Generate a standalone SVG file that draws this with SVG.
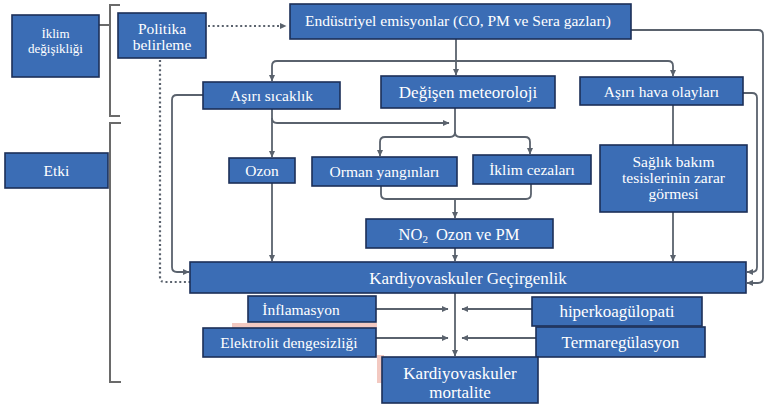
<svg xmlns="http://www.w3.org/2000/svg" width="764" height="407" viewBox="0 0 764 407">
<style>
.box{fill:#3b6db5;stroke:#1c2f58;stroke-width:1.6}
.t{fill:#ffffff;font-family:"Liberation Serif","Times New Roman",serif;font-size:15.5px;text-anchor:middle}
.b{font-size:17px}
.s{font-size:13px}
.c{fill:none;stroke:#5a626d;stroke-width:1.8}
.d{fill:none;stroke:#5a626d;stroke-width:2.2;stroke-dasharray:2 2.6}
.br{fill:none;stroke:#6a6a6a;stroke-width:2}
.pk{fill:#f3c9c1}
</style>
<defs>
<marker id="ah" markerWidth="7" markerHeight="7" refX="6" refY="3.5" orient="auto" markerUnits="userSpaceOnUse">
<path d="M0,0.5 L6.5,3.5 L0,6.5 Z" fill="#5a626d"/>
</marker>
</defs>
<rect width="764" height="407" fill="#ffffff"/>
<rect class="pk" x="232" y="323" width="145" height="6"/>
<rect class="pk" x="377" y="355" width="7" height="28"/>
<g id="brackets">
<path class="br" d="M120 5 H110 V116 H120"/>
<path class="br" d="M99 25 H110"/>
<path class="br" d="M121 123 H110 V382 H121"/>
</g>
<g id="connectors">
<path class="d" d="M208 26 H286" marker-end="url(#ah)"/>
<path class="d" d="M160 60 V277 Q160 282 165 282 H190"/>
<path class="c" d="M456 39 V75" marker-end="url(#ah)"/>
<path class="c" d="M456 61 H277 Q272 61 272 66 V81" marker-end="url(#ah)"/>
<path class="c" d="M456 61 H668 Q673 61 673 66 V76" marker-end="url(#ah)"/>
<path class="c" d="M272 109 V157" marker-end="url(#ah)"/>
<path class="c" d="M272 118 Q272 123 277 123 H449" marker-end="url(#ah)"/>
<path class="c" d="M455 108 V132 Q455 137 450 137 H385 Q380 137 380 142 V156" marker-end="url(#ah)"/>
<path class="c" d="M455 132 Q455 137 460 137 H525 Q530 137 530 142 V154" marker-end="url(#ah)"/>
<path class="c" d="M381 186 V194 Q381 199 386 199 H526 Q531 199 531 194 V184"/>
<path class="c" d="M455 199 V218" marker-end="url(#ah)"/>
<path class="c" d="M455 248 V261" marker-end="url(#ah)"/>
<path class="c" d="M272 183 V261" marker-end="url(#ah)"/>
<path class="c" d="M673 105 V145"/>
<path class="c" d="M673 212 V261" marker-end="url(#ah)"/>
<path class="c" d="M203 95 H177 Q172 95 172 100 V267 Q172 272 177 272 H189" marker-end="url(#ah)"/>
<path class="c" d="M631 30 H758 Q763 30 763 35 V278 Q763 283 758 283 H747" marker-end="url(#ah)"/>
<path class="c" d="M743 93 H752 Q757 93 757 98 V267 Q757 272 752 272 H747" marker-end="url(#ah)"/>
<path class="c" d="M455 293 V356" marker-end="url(#ah)"/>
<path class="c" d="M376 309 H448" marker-end="url(#ah)"/>
<path class="c" d="M376 338 H448" marker-end="url(#ah)"/>
<path class="c" d="M532 309 H462" marker-end="url(#ah)"/>
<path class="c" d="M536 338 H462" marker-end="url(#ah)"/>
</g>
<g id="iklim"><rect class="box" x="12" y="15" width="87" height="62"/><text class="t s" x="55.5" y="38">İklim</text><text class="t s" x="55.5" y="53">değişikliği</text></g>
<g id="etki"><rect class="box" x="5" y="153" width="103" height="35"/><text class="t" x="56.5" y="176">Etki</text></g>
<g id="politika"><rect class="box" x="118" y="13" width="88" height="45"/><text class="t" x="162" y="34">Politika</text><text class="t" x="162" y="50">belirleme</text></g>
<g id="endustriyel"><rect class="box" x="290" y="4" width="341" height="35"/><text class="t" x="458" y="25.5">Endüstriyel emisyonlar (CO, PM ve Sera gazları)</text></g>
<g id="asiri-sicaklik"><rect class="box" x="203" y="82" width="137" height="27"/><text class="t" x="271.5" y="100.5">Aşırı sıcaklık</text></g>
<g id="degisen"><rect class="box" x="381" y="76" width="174" height="32"/><text class="t b" x="468" y="98">Değişen meteoroloji</text></g>
<g id="asiri-hava"><rect class="box" x="580" y="77" width="163" height="28"/><text class="t" x="661.5" y="96.5">Aşırı hava olayları</text></g>
<g id="ozon"><rect class="box" x="229" y="158" width="66" height="25"/><text class="t" x="262" y="175.5">Ozon</text></g>
<g id="orman"><rect class="box" x="312" y="157" width="145" height="29"/><text class="t" x="384.5" y="176.5">Orman yangınları</text></g>
<g id="iklim-cezalari"><rect class="box" x="473" y="155" width="118" height="29"/><text class="t" x="532" y="174.5">İklim cezaları</text></g>
<g id="saglik"><rect class="box" x="600" y="145" width="147" height="67"/><text class="t" x="673.5" y="167">Sağlık bakım</text><text class="t" x="673.5" y="183">tesislerinin zarar</text><text class="t" x="673.5" y="199">görmesi</text></g>
<g id="no2"><rect class="box" x="366" y="219" width="187" height="29"/><text class="t" x="459" y="239.5" style="font-size:16.5px">NO<tspan font-size="11" dy="3">2</tspan><tspan dy="-3" dx="8">Ozon ve PM</tspan></text></g>
<g id="kardiyo-gecirgenlik"><rect class="box" x="190" y="262" width="556" height="31"/><text class="t b" x="468" y="283.5">Kardiyovaskuler Geçirgenlik</text></g>
<g id="inflamasyon"><rect class="box" x="248" y="296" width="128" height="26"/><text class="t" x="301" y="314.5">İnflamasyon</text></g>
<g id="elektrolit"><rect class="box" x="203" y="328" width="173" height="29"/><text class="t" x="289" y="347.5">Elektrolit dengesizliği</text></g>
<g id="hiperkoagulopati"><rect class="box" x="532" y="297" width="170" height="29"/><text class="t b" x="617" y="317">hiperkoagülopati</text></g>
<g id="termaregulasyon"><rect class="box" x="536" y="327" width="169" height="30"/><text class="t b" x="620.5" y="348">Termaregülasyon</text></g>
<g id="mortalite"><rect class="box" x="382" y="357" width="156" height="46"/><text class="t b" x="460" y="379">Kardiyovaskuler</text><text class="t b" x="460" y="398">mortalite</text></g>
</svg>
